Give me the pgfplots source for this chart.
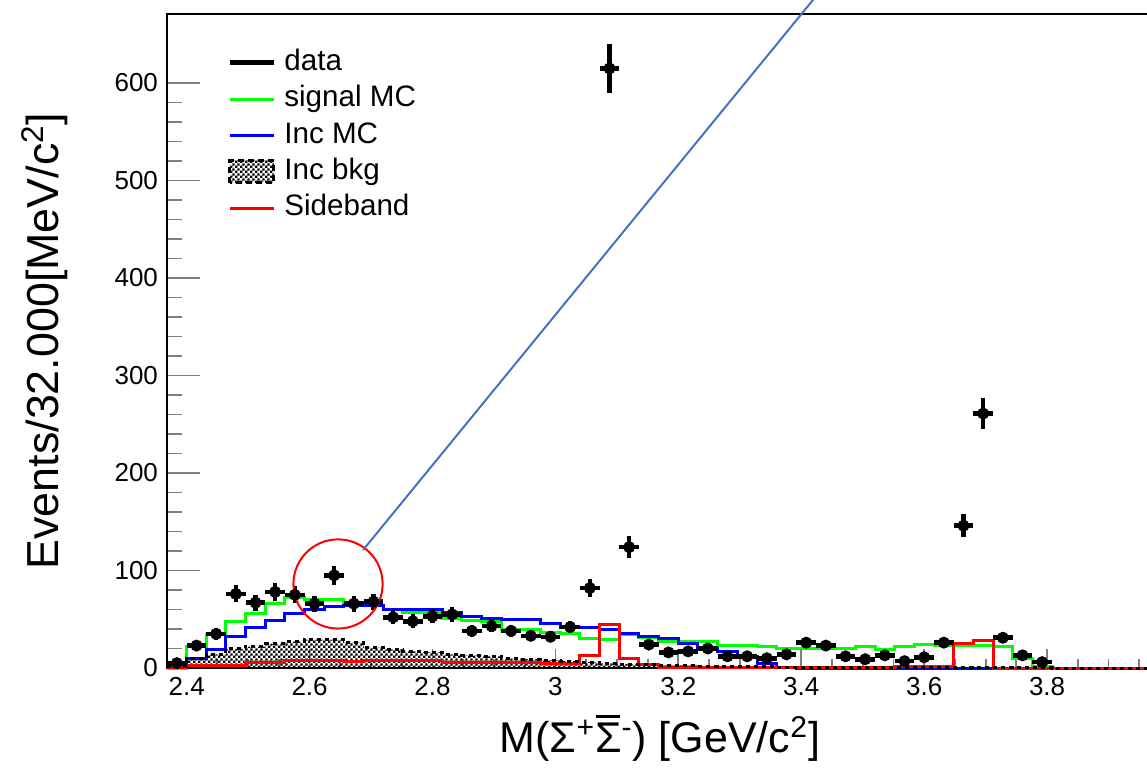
\documentclass[border=0pt]{standalone}
\usepackage{fontspec}
\setmainfont{Liberation Sans}
\usepackage{pgfplots}
\pgfplotsset{compat=1.18}
\usepackage{pgfplotstable}
\usetikzlibrary{patterns.meta}

\definecolor{sigcol}{RGB}{0,255,0}
\definecolor{inccol}{RGB}{0,0,255}
\definecolor{sidecol}{RGB}{255,0,0}
\definecolor{annot}{RGB}{68,114,196}

% fine checkerboard fill for the inclusive background
\tikzdeclarepattern{
  name=finecheck,
  type=uncolored,
  bottom left={(0pt,0pt)},
  top right={(2.4pt,2.4pt)},
  tile size={(2.4pt,2.4pt)},
  code={
    \pgfpathrectangle{\pgfpoint{0pt}{0pt}}{\pgfpoint{1.2pt}{1.2pt}}
    \pgfpathrectangle{\pgfpoint{1.2pt}{1.2pt}}{\pgfpoint{1.2pt}{1.2pt}}
    \pgfusepath{fill}
  }
}

% data: bin centre, events, statistical error
\pgfplotstableread{
x y ey
2.384 5 2.24
2.416 23 4.80
2.448 35 5.92
2.480 76 8.72
2.512 67 8.19
2.544 78 8.83
2.576 75 8.66
2.608 66 8.12
2.640 95 9.75
2.672 66 8.12
2.704 68 8.25
2.736 52 7.21
2.768 48 6.93
2.800 53 7.28
2.832 55 7.42
2.864 38 6.16
2.896 43 6.56
2.928 38 6.16
2.960 33 5.74
2.992 32 5.66
3.024 42 6.48
3.056 82 9.06
3.088 615 24.80
3.120 124 11.14
3.152 24 4.90
3.184 16 4.00
3.216 17 4.12
3.248 20 4.47
3.280 12 3.46
3.312 12 3.46
3.344 10 3.16
3.376 14 3.74
3.408 26 5.10
3.440 23 4.80
3.472 12 3.46
3.504 9 3.00
3.536 13 3.61
3.568 7 2.65
3.600 11 3.32
3.632 26 5.10
3.664 146 12.08
3.696 261 16.16
3.728 31 5.57
3.760 13 3.61
3.792 6 2.45
}\datatab

% histograms: lower bin edge, signal MC, inclusive MC, inclusive bkg, sideband
\pgfplotstableread{
edge sig inc bkg side
2.368 0 3.8 2 1
2.400 22 10 10 3
2.432 34.5 18.5 14 3
2.464 48 32 20 3
2.496 56 41.7 22 5.5
2.528 66 48.5 25 5.5
2.560 72.5 56 27 8
2.592 70 60.5 29 8
2.624 70.5 63 29 8
2.656 67 63.6 26 7
2.688 64 63.6 21 7.5
2.720 60 59.5 19 7.5
2.752 57 59.5 17 7.5
2.784 57 59.5 16 7.5
2.816 51 56.7 14 6
2.848 49 53.3 13 6
2.880 48 51 12 5.5
2.912 40 50 10 5.5
2.944 40 50 9 5.5
2.976 36 46 8 5
3.008 35 42 7 5
3.040 30 42 6 13
3.072 29 39 5 45
3.104 34 35.6 4 10
3.136 31 32 4 4
3.168 27 30 3 1
3.200 27 25.3 3 1
3.232 27 20.5 2 0.5
3.264 23 17 2 1
3.296 23 12 2 0.5
3.328 22 5 2 0.5
3.360 20 0.5 1 0.5
3.392 20 0 1 1
3.424 20 0 1 0.5
3.456 20 0 1 0.5
3.488 22 0 1 1
3.520 18.5 0 1 1
3.552 22 0 1 2
3.584 24.6 0 1 2
3.616 22.6 0 1 2
3.648 23 0 1 25
3.680 23 0 1 28
3.712 22 0 1 0
3.744 10 0 1 0
3.776 1.5 0 0.5 0
3.808 0 0 0 0
3.840 0 0 0 0
3.872 0 0 0 0
3.904 0 0 0 0
3.936 0 0 0 0
3.968 0 0 0 0
4.000 0 0 0 0
}\histtab

\begin{document}
\begin{tikzpicture}
\begin{axis}[
  scale only axis,
  width=501.5pt, height=327pt,
  xmin=2.368, xmax=4.0,
  ymin=0, ymax=670.8,
  clip=false,
  axis line style={line width=1pt},
  tick align=inside,
  xtick pos=bottom, ytick pos=left,
  xtick={2.4,2.6,2.8,3.0,3.2,3.4,3.6,3.8,4.0},
  xticklabels={2.4,2.6,2.8,3,3.2,3.4,3.6,3.8,{}},
  minor x tick num=3,
  ytick={0,100,200,300,400,500,600},
  minor y tick num=4,
  xtick style={line width=0.9pt, /pgfplots/major tick length=9.5pt, /pgfplots/minor tick length=4.75pt},
  ytick style={line width=0.9pt, /pgfplots/major tick length=16.5pt, /pgfplots/minor tick length=7.5pt},
  /pgf/number format/assume math mode=true,
  ticklabel style={font=\fontsize{13}{15}\selectfont},
  xticklabel style={yshift=-1pt},
  yticklabel style={xshift=-1pt},
  xlabel={M(Σ\textsuperscript{+}\makebox[0pt][l]{\hspace{0.03em}\raisebox{0.8em}{\rule{0.56em}{0.07em}}}Σ\textsuperscript{-}) [GeV/c\textsuperscript{2}]},
  ylabel={Events/32.000[MeV/c\textsuperscript{2}]},
  every axis x label/.style={at={(axis description cs:0.4915,-0.107)}, anchor=center, font=\fontsize{21.5}{25}\selectfont},
  every axis y label/.style={at={(axis description cs:-0.1216,0.5)}, rotate=90, anchor=center, font=\fontsize{22.4}{26}\selectfont},
  legend style={draw=none, fill=none, at={(axis description cs:0.0598,0.948)}, anchor=north west,
    font=\fontsize{14.8}{17}\selectfont, row sep=3.65pt, column sep=4pt, inner sep=0pt,
    nodes={inner sep=0pt, text height=11pt, text depth=3.5pt}},
  legend cell align=left,
]
\coordinate (O) at (rel axis cs:0,0);

% legend entries
\addlegendimage{legend image code/.code={\draw[line width=2.5pt] (0pt,0pt) -- (22pt,0pt);}}
\addlegendentry{data}
\addlegendimage{legend image code/.code={\draw[line width=1.5pt, sigcol] (0pt,0pt) -- (22pt,0pt);}}
\addlegendentry{signal MC}
\addlegendimage{legend image code/.code={\draw[line width=1.5pt, inccol] (0pt,0pt) -- (22pt,0pt);}}
\addlegendentry{Inc MC}
\addlegendimage{legend image code/.code={\draw[line width=1.4pt, densely dashed, pattern=finecheck] (0pt,-5.5pt) rectangle (22pt,5.5pt);}}
\addlegendentry{Inc bkg}
\addlegendimage{legend image code/.code={\draw[line width=1.5pt, sidecol] (0pt,0pt) -- (22pt,0pt);}}
\addlegendentry{Sideband}

% inclusive background, checkered
\addplot[const plot mark left, draw=none, pattern=finecheck, pattern color=black, forget plot]
  table[x=edge, y=bkg] {\histtab} \closedcycle;
% signal MC
\addplot[const plot mark left, line width=1.5pt, sigcol, forget plot]
  table[x=edge, y=sig] {\histtab};
% inclusive MC
\addplot[const plot mark left, line width=1.5pt, inccol, forget plot]
  table[x=edge, y=inc] {\histtab};
% sideband
\addplot[const plot mark left, line width=1.5pt, sidecol, forget plot]
  table[x=edge, y=side] {\histtab};
% outline of the inclusive background
\addplot[const plot mark left, line width=1.5pt, black, dash pattern=on 2pt off 2pt, forget plot]
  table[x=edge, y=bkg] {\histtab};
% data with errors
\addplot[only marks, mark=*, mark size=2.8pt, black, forget plot,
  error bars/.cd, y dir=both, y explicit, x dir=both, x fixed=0.016,
  error mark=none, error bar style={line width=2.3pt, black}]
  table[x=x, y=y, y error=ey] {\datatab};

% highlighted bin
\draw[sidecol, line width=1pt] (axis cs:2.6463,86.2) circle[radius=22.3pt];
\draw[annot, line width=1pt] (axis cs:2.687,121) -- (axis cs:3.4323,695.4);
\end{axis}
\pgfresetboundingbox
\path ([shift={(-83.5pt,-52.5pt)}]O) rectangle ([shift={(490pt,334pt)}]O);
\end{tikzpicture}
\end{document}
